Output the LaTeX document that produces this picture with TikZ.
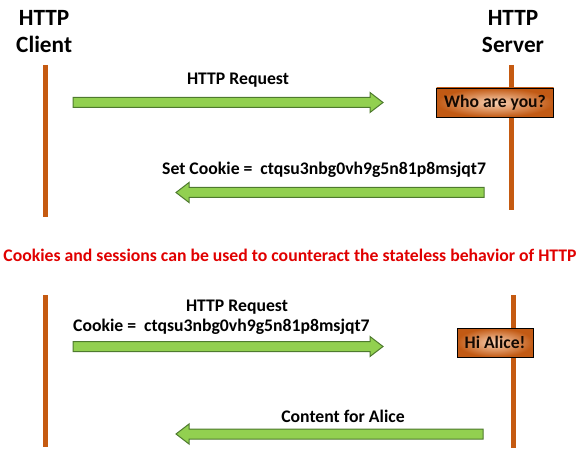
\documentclass[tikz,border=0pt]{standalone}
\usepackage{fontspec}
\setmainfont{Carlito}
\usetikzlibrary{calc}
\definecolor{lifeC}{HTML}{C55A11}
\definecolor{arrG}{HTML}{92D050}
\definecolor{arrD}{HTML}{4E7A2E}
\definecolor{boxOut}{HTML}{C25A14}
\definecolor{boxIn}{HTML}{FAD2B4}
\definecolor{redT}{HTML}{E00000}
\tikzset{
  lifeline/.style={draw=lifeC, line width=5pt},
  blk/.style={draw=arrD, fill=arrG, line width=1pt, line join=miter},
  title/.style={font=\fontsize{23.3}{27}\selectfont\bfseries, align=center, inner sep=0},
  lbl/.style={font=\fontsize{17.7}{20}\selectfont\bfseries, inner sep=0},
  msgbox/.style={draw=black, line width=0.8pt, inner color=boxIn, outer color=boxOut, font=\fontsize{17.6}{18}\selectfont\bfseries, text=black!90!lifeC, inner sep=0, minimum height=29pt},
}
\newcommand{\rarr}[2]{\draw[blk] ($(#1)+(0,5)$) -- ($(#2)+(-13,5)$) -- ($(#2)+(-13,10)$) -- (#2) -- ($(#2)+(-13,-10)$) -- ($(#2)+(-13,-5)$) -- ($(#1)+(0,-5)$) -- cycle;}
\newcommand{\larr}[2]{\draw[blk] ($(#1)+(0,5)$) -- ($(#2)+(13,5)$) -- ($(#2)+(13,10)$) -- (#2) -- ($(#2)+(13,-10)$) -- ($(#2)+(13,-5)$) -- ($(#1)+(0,-5)$) -- cycle;}
\begin{document}
\begin{tikzpicture}[x=1pt,y=-1pt]
\useasboundingbox (0,0) rectangle (581,465);
% titles
\node[title, anchor=north west] (client) at (16,10) {HTTP\\Client};
\node[title, anchor=north] (server) at (513,10) {HTTP\\Server};
% lifelines
\coordinate (c1t) at (45,65); \coordinate (c1b) at (45,217);
\coordinate (s1t) at (511,65); \coordinate (s1b) at (511,210);
\coordinate (c2t) at (45,295); \coordinate (c2b) at (45,447);
\coordinate (s2t) at (513,295); \coordinate (s2b) at (513,448);
\draw[lifeline] (c1t) -- (c1b);
\draw[lifeline] (s1t) -- (s1b);
\draw[lifeline] (c2t) -- (c2b);
\draw[lifeline] (s2t) -- (s2b);
% boxes
\node[msgbox, minimum width=117pt] (who) at (495,102.5) {Who are you?};
\node[msgbox, minimum width=76pt] (alice) at (495,342.5) {Hi Alice!};
% arrows
\coordinate (a1s) at (73,102.5); \coordinate (a1e) at (383,102.5);
\coordinate (a2s) at (484,192.5); \coordinate (a2e) at (176,192.5);
\coordinate (a3s) at (73,346.5); \coordinate (a3e) at (383,346.5);
\coordinate (a4s) at (483,434); \coordinate (a4e) at (176,434);
\rarr{a1s}{a1e}
\larr{a2s}{a2e}
\rarr{a3s}{a3e}
\larr{a4s}{a4e}
% labels
\node[lbl] (l1) at (238,80) {HTTP Request};
\node[lbl, anchor=west] (l2) at (162,170) {Set Cookie =\ \ ctqsu3nbg0vh9g5n81p8msjqt7};
\node[lbl] (l3) at (237,307) {HTTP Request};
\node[lbl, anchor=west] (l4) at (73,327) {Cookie =\ \ ctqsu3nbg0vh9g5n81p8msjqt7};
\node[lbl] (l5) at (343,416) {Content for Alice};
\node[font=\fontsize{17.7}{20}\selectfont\bfseries, text=redT, inner sep=0] (note) at (290,255) {Cookies and sessions can be used to counteract the stateless behavior of HTTP};
\end{tikzpicture}
\end{document}
